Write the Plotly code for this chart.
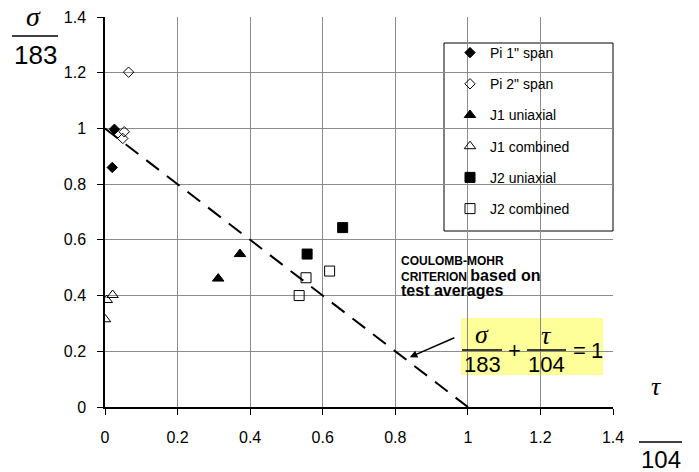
import plotly.graph_objects as go

# ---- data (tau/104 on x, sigma/183 on y) ----
pi1_x = [0.026, 0.020]
pi1_y = [0.997, 0.860]
pi2_x = [0.065, 0.053, 0.049]
pi2_y = [1.202, 0.988, 0.964]
j1u_x = [0.312, 0.372]
j1u_y = [0.461, 0.549]
j1c_x = [0.021, 0.005, 0.000]
j1c_y = [0.402, 0.384, 0.315]
j2u_x = [0.557, 0.655]
j2u_y = [0.549, 0.644]
j2c_x = [0.535, 0.554, 0.619]
j2c_y = [0.400, 0.464, 0.488]

crit_x = [0, 1]
crit_y = [1, 0]

series_names = ['Pi 1" span', 'Pi 2" span', 'J1 uniaxial', 'J1 combined', 'J2 uniaxial', 'J2 combined']
tick_vals = [0, 0.2, 0.4, 0.6, 0.8, 1, 1.2, 1.4]
tick_text = ['0', '0.2', '0.4', '0.6', '0.8', '1', '1.2', '1.4']

# ---- layout geometry (pixels) ----
W_FIG, H_FIG = 699, 472
L, R, T, B = 105, 613, 17, 407
PW, PH = R - L, B - T


def px(x):
    return (x - L) / PW


def py(y):
    return (B - y) / PH


fig = go.Figure()

fig.add_trace(go.Scatter(x=crit_x, y=crit_y, mode='lines', showlegend=False,
                         line=dict(color='black', width=2, dash='16px,10px'), hoverinfo='skip'))

styles = [
    (pi1_x, pi1_y, dict(symbol='diamond', size=8, color='black', line=dict(color='black', width=1))),
    (pi2_x, pi2_y, dict(symbol='diamond-open', size=8, color='black', line=dict(color='black', width=1))),
    (j1u_x, j1u_y, dict(symbol='triangle-up', size=10, color='black', line=dict(color='black', width=1))),
    (j1c_x, j1c_y, dict(symbol='triangle-up-open', size=10, color='black', line=dict(color='black', width=1))),
    (j2u_x, j2u_y, dict(symbol='square', size=10, color='black', line=dict(color='black', width=1))),
    (j2c_x, j2c_y, dict(symbol='square-open', size=10, color='black', line=dict(color='black', width=1))),
]
for name, (xs, ys, mk) in zip(series_names, styles):
    fig.add_trace(go.Scatter(x=xs, y=ys, mode='markers', name=name, marker=mk,
                             legendgroup=name))

axis_common = dict(
    range=[0, 1.4], tickmode='array', tickvals=tick_vals, ticktext=tick_text,
    showgrid=True, gridcolor='#8c8c8c', gridwidth=1,
    showline=True, linecolor='black', linewidth=1.5,
    ticks='outside', ticklen=6, tickcolor='black', tickwidth=1,
    zeroline=False, fixedrange=True, automargin=False,
    tickfont=dict(family='Liberation Sans, Arial', size=16, color='black'),
)

fig.update_layout(
    width=W_FIG, height=H_FIG,
    margin=dict(l=L, r=W_FIG - R, t=T, b=H_FIG - B, autoexpand=False),
    paper_bgcolor='white', plot_bgcolor='white',
    xaxis=dict(**axis_common, ticklabelstandoff=9),
    yaxis=dict(**axis_common, ticklabelstandoff=8),
    showlegend=True,
    legend=dict(x=px(450), y=py(37), xanchor='left', yanchor='top',
                bgcolor='rgba(0,0,0,0)', borderwidth=0,
                traceorder='grouped', tracegroupgap=10,
                font=dict(family='Liberation Sans, Arial', size=14, color='black'),
                itemwidth=30),
    font=dict(family='Liberation Sans, Arial', color='black'),
)

shapes = []
# legend box
shapes.append(dict(type='rect', xref='paper', yref='paper', x0=px(444), x1=px(613), y0=py(231), y1=py(43),
                   fillcolor='white', line=dict(color='black', width=1), layer='between'))
# white box behind criterion text
shapes.append(dict(type='rect', xref='paper', yref='paper', x0=px(388), x1=px(595), y0=py(310), y1=py(253),
                   fillcolor='white', line=dict(width=0), layer='between'))
# yellow equation box
shapes.append(dict(type='rect', xref='paper', yref='paper', x0=px(461), x1=px(603), y0=py(375), y1=py(318),
                   fillcolor='#FFFF99', line=dict(width=0), layer='between'))
# fraction bars
for (x0, x1, y) in [(12, 58, 36), (639, 682, 442), (462, 502, 350), (527, 566, 350)]:
    shapes.append(dict(type='line', xref='paper', yref='paper', x0=px(x0), x1=px(x1), y0=py(y), y1=py(y),
                       line=dict(color='black', width=1.5), layer='above'))
fig.update_layout(shapes=shapes)

anns = []


def txt(text, x, y, size, family='Liberation Sans, Arial', xanchor='center', yanchor='middle'):
    anns.append(dict(text=text, xref='paper', yref='paper', x=px(x), y=py(y), showarrow=False,
                     xanchor=xanchor, yanchor=yanchor, align='left',
                     font=dict(family=family, size=size, color='black')))


serif = 'Liberation Serif, Times New Roman'
# axis titles
txt('<i>σ</i>', 33, 16, 28, serif)
txt('183', 35, 55, 26)
txt('<i>τ</i>', 656, 386, 26, serif)
txt('104', 661, 459, 24)
# equation
txt('<i>σ</i>', 482, 334, 26, serif)
txt('183', 482, 364, 22)
txt('+', 514, 350, 22)
txt('<i>τ</i>', 546, 335, 26, serif)
txt('104', 546, 364, 22)
txt('=', 579, 350, 22)
txt('1', 597, 350, 22)
# criterion text (one block, tight line spacing)
txt("<b>COULOMB-MOHR<br>CRITERION <span style='font-size:16px'>based on</span><br>"
    "<span style='font-size:16px'>test averages</span></b>", 399, 276, 12, xanchor='left')

# arrow
anns.append(dict(x=0.840, y=0.179, ax=0.967, ay=0.251, xref='x', yref='y', axref='x', ayref='y',
                 text='', showarrow=True, arrowhead=2, arrowsize=1, arrowwidth=1.5, arrowcolor='black',
                 standoff=0))
fig.update_layout(annotations=anns)

fig.write_html('out.html', config={'displayModeBar': False},
               post_script="document.body.style.margin='0';document.body.style.padding='0';")
